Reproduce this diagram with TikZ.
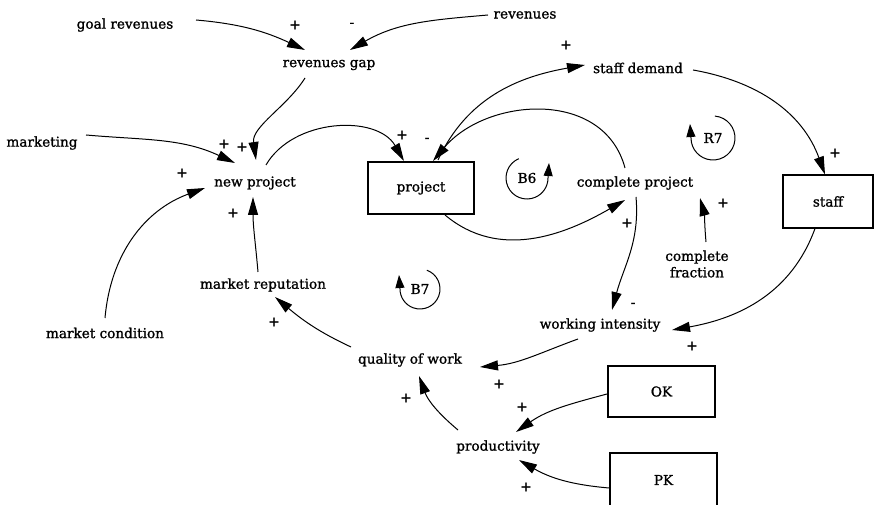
\documentclass[tikz,border=0pt]{standalone}
\usepackage{fontspec}
\setmainfont[FakeBold=1.2]{DejaVu Serif}
\usetikzlibrary{arrows.meta}
\begin{document}
\begin{tikzpicture}[x=1pt,y=1pt,
  font=\fontsize{13.6}{16.5}\selectfont,
  lbl/.style={inner sep=1pt},
  box/.style={draw, line width=1.1pt, minimum width=106pt, minimum height=52pt},
  sgn/.style={inner sep=0pt, font=\fontsize{14}{14}\selectfont},
  arr/.style={line width=1pt, -{Triangle[length=18pt,width=10pt]}},
  looparr/.style={line width=1pt, -{Triangle[length=13pt,width=9pt]}}]
\useasboundingbox (0,0) rectangle (880,505);
\clip (0,0) rectangle (880,505);
% nodes
\node[lbl] (gr) at (125,480) {goal revenues};
\node[lbl] (rev) at (525,490) {revenues};
\node[lbl] (rg) at (329,440) {revenues gap};
\node[lbl] (mk) at (42,362) {marketing};
\node[lbl] (np) at (255,322) {new project};
\node[box] (proj) at (421,317) {project};
\node[lbl] (cp) at (635,322) {complete project};
\node[lbl] (sd) at (638,437) {staff demand};
\node[box, minimum width=90pt, minimum height=53pt] (staff) at (828,303.5) {staff};
\node[lbl, align=center] (cf) at (697,241) {complete\\fraction};
\node[lbl] (wi) at (600,180) {working intensity};
\node[lbl] (qw) at (410,145) {quality of work};
\node[box, minimum width=107pt, minimum height=51pt] (ok) at (661.5,113.5) {OK};
\node[box, minimum width=107pt, minimum height=54pt] (pk) at (663.5,25) {PK};
\node[lbl] (prod) at (498,58) {productivity};
\node[lbl] (mr) at (263,220) {market reputation};
\node[lbl] (mc) at (105,172) {market condition};
% loop markers
\node[lbl] (b6) at (527,327) {B6};
\node[lbl] (r7) at (713,367) {R7};
\node[lbl] (b7) at (420,216) {B7};
\draw[looparr] ([shift={(113:21pt)}]b6.center) arc[start angle=113, end angle=360, radius=21pt] -- ++(1,15);
\draw[looparr] ([shift={(85:22pt)}]r7.center) arc[start angle=85, end angle=-180, radius=22pt] -- ++(-1,14);
\draw[looparr] ([shift={(70:20pt)}]b7.center) arc[start angle=70, end angle=-180, radius=20pt] -- ++(-1,14);
% connectors
\draw[arr] ([shift={(71,5)}]gr.center) to[out=-5,in=155] ([shift={(-24,15)}]rg.center);
\draw[arr] ([shift={(-37,0)}]rev.center) to[out=185,in=30] ([shift={(21,15)}]rg.center);
\draw[arr] ([shift={(-24,-13)}]rg.center) to[out=238,in=98,looseness=0.9] ([shift={(1,23)}]np.center);
\draw[arr] ([shift={(44,8)}]mk.center) to[out=-5,in=155] ([shift={(-20,20)}]np.center);
\draw[arr] ([shift={(0,15)}]mc.center) to[out=85,in=200] ([shift={(-50,-5)}]np.center);
\draw[arr] ([shift={(-5,13)}]mr.center) to[out=95,in=-90] ([shift={(-2,-14)}]np.center);
\draw[arr] ([shift={(11,18)}]np.center) to[out=60,in=120] ([shift={(-17,27)}]proj.center);
\draw[arr] ([shift={(-10,15)}]cp.center) to[out=105,in=50,looseness=1.1] ([shift={(12,27)}]proj.center);
\draw[arr] ([shift={(17,28)}]proj.center) to[out=65,in=190] ([shift={(-53,3)}]sd.center);
\draw[arr] ([shift={(55,-2)}]sd.center) to[out=-10,in=110] ([shift={(-3,27)}]staff.center);
\draw[arr] ([shift={(24,-27)}]proj.center) to[out=-40,in=210] ([shift={(-10,-17)}]cp.center);
\draw[arr] ([shift={(1,-14)}]cp.center) to[out=-85,in=75] ([shift={(12,15)}]wi.center);
\draw[arr] ([shift={(9,22)}]cf.center) to[out=95,in=-75] ([shift={(65,-15)}]cp.center);
\draw[arr] ([shift={(-13,-27)}]staff.center) to[out=250,in=10] ([shift={(72,-5)}]wi.center);
\draw[arr] ([shift={(-22,-14)}]wi.center) to[out=200,in=5] ([shift={(70,-7)}]qw.center);
\draw[arr] ([shift={(-59,13)}]qw.center) to[out=155,in=-40] ([shift={(12,-12)}]mr.center);
\draw[arr] ([shift={(-40,17)}]prod.center) to[out=140,in=-70] ([shift={(9,-16)}]qw.center);
\draw[arr] ([shift={(-54.5,-2.5)}]ok.center) to[out=195,in=35] ([shift={(18,15)}]prod.center);
\draw[arr] ([shift={(-54.5,-8)}]pk.center) to[out=175,in=-30] ([shift={(21,-13)}]prod.center);
% signs
\node[sgn] (s1) at (295,480) {+};
\node[sgn] (s2) at (352,480) {-};
\node[sgn] (s3) at (242,358) {+};
\node[sgn] (s4) at (224,361) {+};
\node[sgn] (s5) at (182,332) {+};
\node[sgn] (s6) at (233,292) {+};
\node[sgn] (s7) at (402,370) {+};
\node[sgn] (s8) at (427,365) {-};
\node[sgn] (s9) at (566,460) {+};
\node[sgn] (s10) at (835,352) {+};
\node[sgn] (s11) at (627,282) {+};
\node[sgn] (s12) at (633,200) {-};
\node[sgn] (s13) at (723,302) {+};
\node[sgn] (s14) at (692,159) {+};
\node[sgn] (s15) at (499,121) {+};
\node[sgn] (s16) at (274,183) {+};
\node[sgn] (s17) at (406,107) {+};
\node[sgn] (s18) at (522,98) {+};
\node[sgn] (s19) at (526,18) {+};
\end{tikzpicture}
\end{document}
